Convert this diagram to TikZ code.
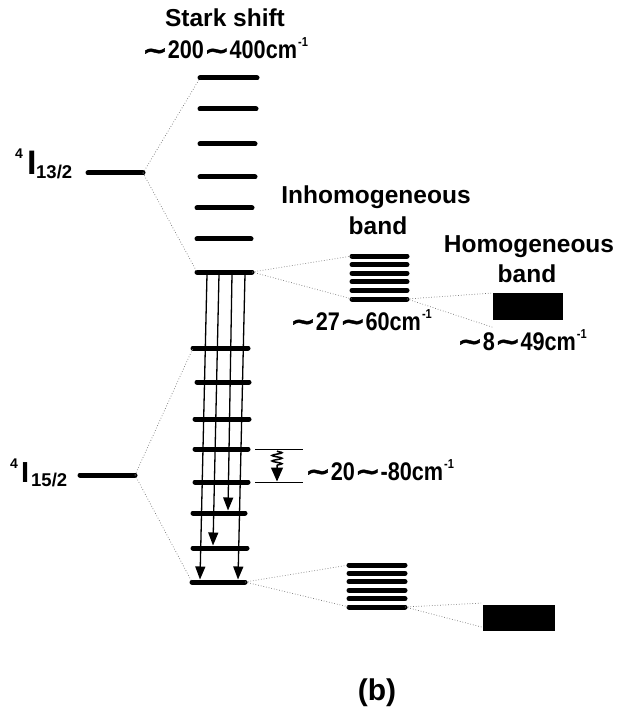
\documentclass[tikz,border=0pt]{standalone}
\usepackage{fontspec}
\usepackage{graphicx}
\setmainfont{Liberation Sans}
\newfontfamily\numfont[FakeStretch=0.85]{Liberation Sans}
\newfontfamily\symfont[FakeBold=1.5]{DejaVu Sans}
\usetikzlibrary{arrows.meta,decorations.pathmorphing}
\newcommand\wv{\scalebox{1.2}[1]{\symfont\bfseries\symbol{"7E}}}
\newcommand\cmi{cm\raisebox{12pt}{\fontsize{13}{13}\selectfont\kern1pt-1}}
\begin{document}
\begin{tikzpicture}[x=1pt,y=-1pt,
  lvl/.style={line width=5pt,line cap=round},
  dots/.style={black!55,dotted,line width=0.7pt},
  trans/.style={line width=1.3pt,-{Triangle[width=10pt,length=13pt]}},
  lab/.style={font=\fontsize{24.5}{28}\selectfont\bfseries,inner sep=0pt},
  num/.style={font=\numfont\bfseries\fontsize{25.5}{28}\selectfont,inner sep=0pt,anchor=base west},
  blk/.style={fill=black,inner sep=0pt,minimum width=70pt,minimum height=27pt,anchor=north west}]
\useasboundingbox (0,0) rectangle (617,708);

% ---- manifold levels
\coordinate (m13w) at (88,173); \coordinate (m13e) at (143,173);
\draw[lvl] (m13w) -- (m13e);
\coordinate (m15w) at (80,475); \coordinate (m15e) at (135,475);
\draw[lvl] (m15w) -- (m15e);

% ---- Stark levels of 4I13/2
\foreach \n/\y/\xa/\xb in {1/78/200/257,2/109/200/256,3/144/200/255,4/177/200/255,5/208/197/252,6/239/197/251,7/272/197/252}{
  \coordinate (u\n w) at (\xa,\y); \coordinate (u\n e) at (\xb,\y);
  \draw[lvl] (u\n w) -- (u\n e);
}
% ---- Stark levels of 4I15/2
\foreach \n/\y/\xa/\xb in {1/348/193/248,2/382/197/249,3/419/195/249,4/449/195/248,5/482/195/248,6/513/193/245,7/548/193/247,8/582/192/245}{
  \coordinate (l\n w) at (\xa,\y); \coordinate (l\n e) at (\xb,\y);
  \draw[lvl] (l\n w) -- (l\n e);
}

% ---- splitting dotted lines
\draw[dots] (m13e) -- (u1w);
\draw[dots] (m13e) -- (u7w);
\draw[dots] (m15e) -- (l1w);
\draw[dots] (m15e) -- (l8w);

% ---- transitions
\coordinate (t1s) at (207,274); \coordinate (t1e) at (200,579.5);
\coordinate (t2s) at (219,274); \coordinate (t2e) at (213,545.5);
\coordinate (t3s) at (232,274); \coordinate (t3e) at (228,510.5);
\coordinate (t4s) at (245,274); \coordinate (t4e) at (238,579.5);
\draw[trans] (t1s) -- (t1e);
\draw[trans] (t2s) -- (t2e);
\draw[trans] (t3s) -- (t3e);
\draw[trans] (t4s) -- (t4e);

% ---- upper inhomogeneous band
\foreach \k in {0,...,5}{
  \coordinate (ib\k w) at (352,256+8.6*\k); \coordinate (ib\k e) at (407,256+8.6*\k);
  \draw[lvl] (ib\k w) -- (ib\k e);
}
\draw[dots] (u7e) -- (ib0w);
\draw[dots] (u7e) -- (ib5w);
\node[blk] (hb) at (493,293) {};
\draw[dots] (ib5e) -- (hb.north west);
\draw[dots] (ib5e) -- ([yshift=-7pt]hb.south west);

% ---- lower inhomogeneous band
\foreach \k in {0,...,5}{
  \coordinate (jb\k w) at (349,565+8.4*\k); \coordinate (jb\k e) at (405,565+8.4*\k);
  \draw[lvl] (jb\k w) -- (jb\k e);
}
\draw[dots] (l8e) -- (jb0w);
\draw[dots] (l8e) -- (jb5w);
\node[blk,minimum width=72pt,minimum height=26pt] (hc) at (483,605) {};
\draw[dots] (jb5e) -- ([yshift=2pt]hc.north west);
\draw[dots] (jb5e) -- ([yshift=4pt]hc.south west);

% ---- spacing marker
\coordinate (sa1) at (255,449); \coordinate (sa2) at (303,449);
\coordinate (sb1) at (255,482); \coordinate (sb2) at (303,482);
\draw[line width=1pt] (sa1) -- (sa2);
\draw[line width=1pt] (sb1) -- (sb2);
\coordinate (sp1) at (277,451); \coordinate (sp2) at (277,468);
\draw[line width=1.5pt,decorate,decoration={snake,amplitude=5pt,segment length=5.5pt}] (sp1) -- (sp2);
\draw[line width=1.3pt,-{Triangle[width=12pt,length=14pt]}] (sp2) -- (277,481.5);

% ---- labels
\node[font=\fontsize{14}{14}\selectfont\bfseries,inner sep=0pt,anchor=base west] (s4a) at (15,159) {4};
\node[font=\fontsize{34}{34}\selectfont\bfseries,inner sep=0pt,anchor=base west] (Ia) at (27,175) {I};
\node[font=\fontsize{18.5}{18}\selectfont\bfseries,inner sep=0pt,anchor=base west] (ja) at (36,179) {13/2};
\node[font=\fontsize{14}{14}\selectfont\bfseries,inner sep=0pt,anchor=base west] (s4b) at (10,468) {4};
\node[font=\fontsize{29}{29}\selectfont\bfseries,inner sep=0pt,anchor=base west] (Ib) at (21,482) {I};
\node[font=\fontsize{18.5}{18}\selectfont\bfseries,inner sep=0pt,anchor=base west] (jb) at (31,486) {15/2};

\node[lab,anchor=base] (stark) at (225,27) {Stark shift};
\node[num] (starkv) at (142,59) {\wv200\wv400\cmi};
\node[lab,anchor=base] (inh) at (376,204) {Inhomogeneous};
\node[lab,anchor=base] (inhb) at (378,235) {band};
\node[lab,anchor=base] (hom) at (529,253) {Homogeneous};
\node[lab,anchor=base] (homb) at (527,282) {band};
\node[num] (inhv) at (290,330) {\wv27\wv60\cmi};
\node[num] (homv) at (457,350) {\wv8\wv49\cmi};
\node[num] (spv) at (305,480) {\wv20\wv-80\cmi};
\node[font=\fontsize{30}{30}\selectfont\bfseries,inner sep=0pt,anchor=base] (cap) at (377,700) {(b)};
\end{tikzpicture}
\end{document}
